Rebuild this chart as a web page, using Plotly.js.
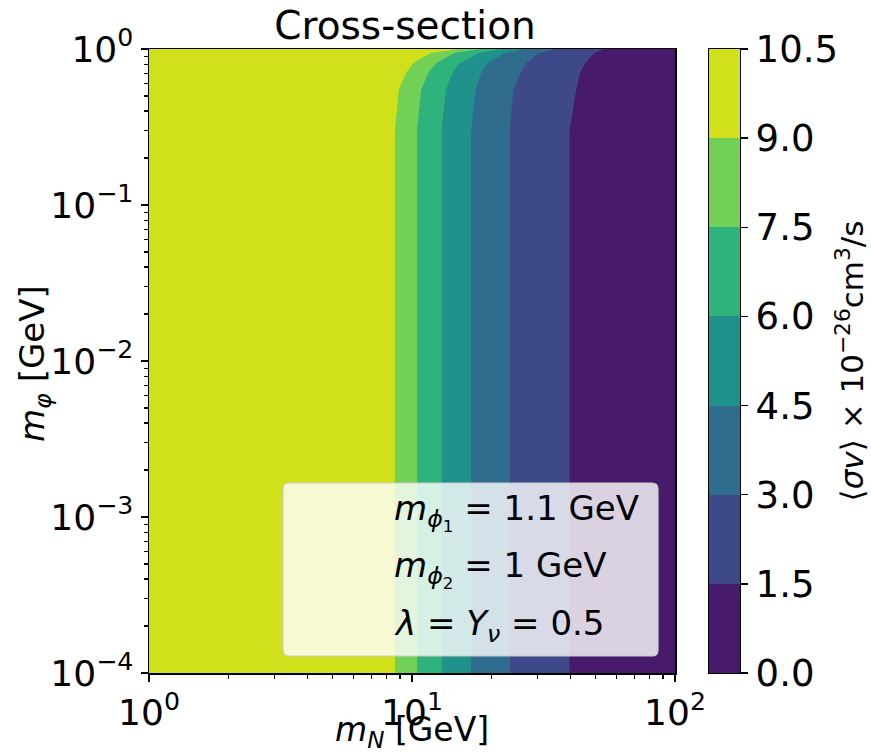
<!DOCTYPE html>
<html><head><meta charset="utf-8">
<script src="https://cdn.plot.ly/plotly-3.0.1.min.js"></script>
<style>html,body{margin:0;padding:0;background:#fff}</style>
</head><body>
<div id="chart" style="width:871px;height:755px"></div>
<script>
// m_N [GeV] grid (x)
const mN = [1, 3, 7, 8, 9, 10, 11, 12, 13.5, 15, 17, 19, 21.5, 24, 27, 31, 36, 42, 50, 60, 75, 100];
// m_phi [GeV] grid (y)
const mPhi = [1e-4, 0.3, 0.55, 0.70, 0.81, 0.94, 1.0];
// <sigma v> x 1e-26 cm^3/s (rows follow mPhi)
const sigmaV = [
  [10.35, 10.18, 10.05, 9.59, 8.65, 7.83, 7.12, 6.51, 5.73, 5.13, 4.43, 3.93, 3.39, 2.93, 2.60, 2.20, 1.78, 1.34, 0.97, 0.86, 0.72, 0.55],
  [10.35, 10.18, 10.05, 9.59, 8.65, 7.83, 7.12, 6.51, 5.73, 5.13, 4.43, 3.93, 3.39, 2.93, 2.60, 2.20, 1.78, 1.34, 0.97, 0.86, 0.72, 0.55],
  [10.35, 10.17, 10.04, 9.85, 8.93, 8.11, 7.39, 6.79, 5.98, 5.36, 4.63, 4.09, 3.54, 3.04, 2.71, 2.33, 1.92, 1.51, 1.03, 0.89, 0.74, 0.55],
  [10.35, 10.18, 10.05, 10.03, 9.41, 8.59, 7.85, 7.20, 6.36, 5.66, 4.90, 4.30, 3.75, 3.27, 2.84, 2.45, 2.03, 1.60, 1.11, 0.91, 0.77, 0.58],
  [10.35, 10.16, 10.02, 10.00, 9.85, 9.07, 8.36, 7.71, 6.83, 6.05, 5.27, 4.59, 4.02, 3.54, 3.02, 2.61, 2.18, 1.73, 1.23, 0.93, 0.79, 0.60],
  [10.35, 10.16, 10.01, 9.98, 9.96, 9.95, 9.44, 8.83, 7.98, 7.23, 6.34, 5.56, 4.72, 4.11, 3.54, 2.91, 2.46, 1.98, 1.45, 0.98, 0.83, 0.65],
  [10.35, 10.21, 10.10, 10.08, 10.07, 10.05, 10.04, 10.03, 9.80, 8.98, 8.00, 7.14, 6.18, 5.32, 4.43, 3.67, 2.90, 2.36, 1.75, 1.11, 0.88, 0.70]
];
// contour levels and band colours (viridis, 7 bands)
const levels = [0, 1.5, 3, 4.5, 6, 7.5, 9, 10.5];
const bandColors = ['#471a6c', '#3e4989', '#2f6c8e', '#21918c', '#2eb37c', '#73d056', '#d0e11c'];
const levelLabels = ['0.0', '1.5', '3.0', '4.5', '6.0', '7.5', '9.0', '10.5'];
// tick labels
const xTickVals = [1, 10, 100];
const xTickText = ['10<sup>0</sup>', '10<sup>1</sup>', '10<sup>2</sup>'];
const yTickVals = [1e-4, 1e-3, 1e-2, 1e-1, 1];
const yTickText = ['10<sup>\u22124</sup>', '10<sup>\u22123</sup>', '10<sup>\u22122</sup>', '10<sup>\u22121</sup>', '10<sup>0</sup>'];
// titles
const xTitle = '<i>m</i><sub><i>N</i></sub> [GeV]';
const yTitle = '<i>m</i><sub><i>\u03c6</i></sub> [GeV]';
const cbTitle = '\u27e8<i>\u03c3v</i>\u27e9 \u00d7 10<sup>\u221226</sup>cm<sup>3</sup>/s';
// parameter box lines
const infoLines = [
  '<i>m</i><sub><i>\u03d5</i><sub>1</sub></sub> = 1.1 GeV',
  '<i>m</i><sub><i>\u03d5</i><sub>2</sub></sub> = 1 GeV',
  '<i>\u03bb</i> = <i>Y</i><sub><i>\u03bd</i></sub> = 0.5'
];

const FONT = 'DejaVu Sans';
const TICK_SIZE = 36;
const colorscale = bandColors.map((c, i) => [i / (bandColors.length - 1), c]);
const step = levels[1] - levels[0];

const contourTrace = {
  type: 'contour',
  x: mN, y: mPhi, z: sigmaV,
  xaxis: 'x', yaxis: 'y',
  autocontour: false,
  contours: {start: levels[1], end: levels[levels.length - 2], size: step, coloring: 'fill', showlines: false},
  line: {width: 0, smoothing: 0},
  colorscale: colorscale,
  showscale: false,
  hoverinfo: 'skip'
};

const cbTrace = {
  type: 'heatmap',
  x: [0, 1],
  y: levels,
  z: bandColors.map((c, i) => [i]),
  zmin: 0, zmax: bandColors.length - 1,
  colorscale: colorscale,
  showscale: false,
  xaxis: 'x2', yaxis: 'y2',
  hoverinfo: 'skip'
};

const W = 871, H = 755;
const L = 149, R = 131, T = 49, B = 82;
const pw = W - L - R, ph = H - T - B;
const px2paperX = p => (p - L) / pw;
const px2paperY = p => (H - B - p) / ph;

const axisCommon = {
  showline: true, linecolor: 'black', linewidth: 1.5, mirror: true,
  showgrid: false, zeroline: false,
  ticks: 'outside', ticklen: 7, tickwidth: 1.5, tickcolor: 'black',
  tickfont: {family: FONT, size: TICK_SIZE, color: 'black'}
};

const annotations = infoLines.map((t, i) => ({
  xref: 'paper', yref: 'paper',
  x: px2paperX(392), y: px2paperY(512 + i * 56.5),
  xanchor: 'left', yanchor: 'middle',
  text: t, showarrow: false,
  font: {family: FONT, size: 34, color: 'black'}
}));
annotations.push({
  xref: 'paper', yref: 'paper',
  x: px2paperX(412), y: px2paperY(755), xanchor: 'center', yanchor: 'bottom',
  text: xTitle, showarrow: false,
  font: {family: FONT, size: 33, color: 'black'}
});
annotations.push({
  xref: 'paper', yref: 'paper',
  x: px2paperX(34), y: px2paperY(364), xanchor: 'center', yanchor: 'middle',
  text: yTitle, showarrow: false, textangle: -90,
  font: {family: FONT, size: 34, color: 'black'}
});

const x0 = px2paperX(283), x1 = px2paperX(658), y0 = px2paperY(656), y1 = px2paperY(483);
const rx = 6 / pw, ry = 6 / ph;
const boxPath = `M ${x0 + rx} ${y0} L ${x1 - rx} ${y0} Q ${x1} ${y0} ${x1} ${y0 + ry} L ${x1} ${y1 - ry} Q ${x1} ${y1} ${x1 - rx} ${y1} L ${x0 + rx} ${y1} Q ${x0} ${y1} ${x0} ${y1 - ry} L ${x0} ${y0 + ry} Q ${x0} ${y0} ${x0 + rx} ${y0} Z`;

const layout = {
  width: W, height: H,
  margin: {l: L, r: R, t: T, b: B, pad: 0},
  paper_bgcolor: 'white', plot_bgcolor: 'white',
  showlegend: false,
  font: {family: FONT, color: 'black'},
  title: {
    text: 'Cross-section', font: {family: FONT, size: 39, color: 'black'},
    xref: 'paper', x: px2paperX(405), xanchor: 'center',
    yref: 'container', y: 1 - 25 / H, yanchor: 'middle'
  },
  xaxis: Object.assign({}, axisCommon, {
    type: 'log', range: [0, 2], domain: [0, 526 / pw], anchor: 'y',
    tickmode: 'array', tickvals: xTickVals, ticktext: xTickText,
    minor: {ticks: 'outside', ticklen: 4, tickwidth: 1.2, tickcolor: 'black', dtick: 'D1', showgrid: false}
  }),
  yaxis: Object.assign({}, axisCommon, {
    type: 'log', range: [-4, 0], domain: [0, 1], anchor: 'x',
    tickmode: 'array', tickvals: yTickVals, ticktext: yTickText,
    minor: {ticks: 'outside', ticklen: 4, tickwidth: 1.2, tickcolor: 'black', dtick: 'D1', showgrid: false}
  }),
  xaxis2: {
    domain: [(709 - L) / pw, 1], range: [0, 1], anchor: 'y2',
    showline: true, linecolor: 'black', linewidth: 1.2, mirror: true,
    showgrid: false, zeroline: false, showticklabels: false, ticks: '', fixedrange: true
  },
  yaxis2: Object.assign({}, axisCommon, {
    domain: [0, 1], range: [levels[0], levels[levels.length - 1]], anchor: 'x2', side: 'right',
    linewidth: 1.2,
    tickmode: 'array', tickvals: levels, ticktext: levelLabels,
    tickfont: {family: FONT, size: 37, color: 'black'},
    title: {text: cbTitle, font: {family: FONT, size: 31, color: 'black'}, standoff: 4}
  }),
  shapes: [{
    type: 'path', xref: 'paper', yref: 'paper', path: boxPath,
    fillcolor: 'rgba(255,255,255,0.8)', line: {color: '#cccccc', width: 1.2}, layer: 'above'
  }],
  annotations: annotations
};

Plotly.newPlot('chart', [contourTrace, cbTrace], layout, {staticPlot: true, displayModeBar: false});
</script>
</body></html>
